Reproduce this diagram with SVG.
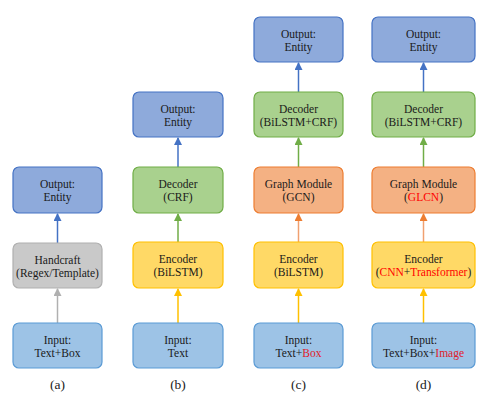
<svg xmlns="http://www.w3.org/2000/svg" width="495" height="407" viewBox="0 0 495 407">
<defs>
<style>
text{font-family:'Liberation Serif','DejaVu Serif','Noto Serif',serif;font-size:11.5px;fill:#1a1a1a;text-anchor:middle}
.cap{font-size:13.5px}
.r{fill:#ff0000}
.rr{fill:#e0202a}
.box{stroke-width:1.2}
.out{fill:#8eaadb;stroke:#4472c4}
.inp{fill:#9dc3e6;stroke:#5b9bd5}
.hand{fill:#c9c9c9;stroke:#b0b0b0}
.dec{fill:#a9d18e;stroke:#70ad47}
.enc{fill:#ffd966;stroke:#ffc000}
.gra{fill:#f4b183;stroke:#ed7d31}
.ln{stroke-width:1.5;fill:none}
</style>
<marker id="aB" markerWidth="8" markerHeight="8" refX="7" refY="4" orient="auto" markerUnits="userSpaceOnUse"><path d="M0,0 L8,4 L0,8 z" fill="#4472c4"/></marker>
<marker id="aG" markerWidth="8" markerHeight="8" refX="7" refY="4" orient="auto" markerUnits="userSpaceOnUse"><path d="M0,0 L8,4 L0,8 z" fill="#b0b0b0"/></marker>
<marker id="aD" markerWidth="8" markerHeight="8" refX="7" refY="4" orient="auto" markerUnits="userSpaceOnUse"><path d="M0,0 L8,4 L0,8 z" fill="#70ad47"/></marker>
<marker id="aO" markerWidth="8" markerHeight="8" refX="7" refY="4" orient="auto" markerUnits="userSpaceOnUse"><path d="M0,0 L8,4 L0,8 z" fill="#ed7d31"/></marker>
<marker id="aY" markerWidth="8" markerHeight="8" refX="7" refY="4" orient="auto" markerUnits="userSpaceOnUse"><path d="M0,0 L8,4 L0,8 z" fill="#ffc000"/></marker>
</defs>
<rect width="495" height="407" fill="#ffffff"/>

<g id="connectors">
<path class="ln" d="M57.5,243 V214" stroke="#4472c4" marker-end="url(#aB)"/>
<path class="ln" d="M57.5,323 V289" stroke="#b0b0b0" marker-end="url(#aG)"/>

<path class="ln" d="M178,167 V138" stroke="#4472c4" marker-end="url(#aB)"/>
<path class="ln" d="M178,242 V214" stroke="#70ad47" marker-end="url(#aD)"/>
<path class="ln" d="M178,323 V289" stroke="#ffc000" marker-end="url(#aY)"/>

<path class="ln" d="M298.5,92 V63" stroke="#4472c4" marker-end="url(#aB)"/>
<path class="ln" d="M298.5,167 V138" stroke="#70ad47" marker-end="url(#aD)"/>
<path class="ln" d="M298.5,242 V214" stroke="#f0a070" marker-end="url(#aO)"/>
<path class="ln" d="M298.5,323 V289" stroke="#ffc000" marker-end="url(#aY)"/>

<path class="ln" d="M423.5,92 V63" stroke="#4472c4" marker-end="url(#aB)"/>
<path class="ln" d="M423.5,167 V138" stroke="#70ad47" marker-end="url(#aD)"/>
<path class="ln" d="M423.5,242 V214" stroke="#f0a070" marker-end="url(#aO)"/>
<path class="ln" d="M423.5,323 V289" stroke="#ffc000" marker-end="url(#aY)"/>
</g>

<!-- column a -->
<g id="a-output"><rect class="box out" x="13" y="167" width="89" height="46" rx="6"/><text x="57.5" y="188">Output:</text><text x="57.5" y="201">Entity</text></g>
<g id="a-handcraft"><rect class="box hand" x="13" y="243" width="89" height="45" rx="6"/><text x="57.5" y="264">Handcraft</text><text x="57.5" y="277">(Regex/Template)</text></g>
<g id="a-input"><rect class="box inp" x="13" y="323" width="89" height="45" rx="6"/><text x="57.5" y="344">Input:</text><text x="57.5" y="357">Text+Box</text></g>
<text class="cap" x="57.5" y="389">(a)</text>

<!-- column b -->
<g id="b-output"><rect class="box out" x="133" y="92" width="90" height="45" rx="6"/><text x="178" y="113">Output:</text><text x="178" y="126">Entity</text></g>
<g id="b-decoder"><rect class="box dec" x="133" y="167" width="90" height="46" rx="6"/><text x="178" y="188">Decoder</text><text x="178" y="201">(CRF)</text></g>
<g id="b-encoder"><rect class="box enc" x="133" y="242" width="90" height="46" rx="6"/><text x="178" y="263">Encoder</text><text x="178" y="276">(BiLSTM)</text></g>
<g id="b-input"><rect class="box inp" x="133" y="323" width="90" height="45" rx="6"/><text x="178" y="344">Input:</text><text x="178" y="357">Text</text></g>
<text class="cap" x="178" y="389">(b)</text>

<!-- column c -->
<g id="c-output"><rect class="box out" x="254" y="17" width="89" height="45" rx="6"/><text x="298.5" y="38">Output:</text><text x="298.5" y="51">Entity</text></g>
<g id="c-decoder"><rect class="box dec" x="254" y="92" width="89" height="45" rx="6"/><text x="298.5" y="113">Decoder</text><text x="298.5" y="126">(BiLSTM+CRF)</text></g>
<g id="c-graph"><rect class="box gra" x="254" y="167" width="89" height="46" rx="6"/><text x="298.5" y="188">Graph Module</text><text x="298.5" y="201">(GCN)</text></g>
<g id="c-encoder"><rect class="box enc" x="254" y="242" width="89" height="46" rx="6"/><text x="298.5" y="263">Encoder</text><text x="298.5" y="276">(BiLSTM)</text></g>
<g id="c-input"><rect class="box inp" x="254" y="323" width="89" height="45" rx="6"/><text x="298.5" y="344">Input:</text><text x="298.5" y="357">Text+<tspan class="rr">Box</tspan></text></g>
<text class="cap" x="298.5" y="389">(c)</text>

<!-- column d -->
<g id="d-output"><rect class="box out" x="372" y="17" width="103" height="45" rx="6"/><text x="423.5" y="38">Output:</text><text x="423.5" y="51">Entity</text></g>
<g id="d-decoder"><rect class="box dec" x="372" y="92" width="103" height="45" rx="6"/><text x="423.5" y="113">Decoder</text><text x="423.5" y="126">(BiLSTM+CRF)</text></g>
<g id="d-graph"><rect class="box gra" x="372" y="167" width="103" height="46" rx="6"/><text x="423.5" y="188">Graph Module</text><text x="423.5" y="201">(<tspan class="r">GLCN</tspan>)</text></g>
<g id="d-encoder"><rect class="box enc" x="372" y="242" width="103" height="46" rx="6"/><text x="423.5" y="263">Encoder</text><text x="423.5" y="276">(<tspan class="r">CNN</tspan>+<tspan class="r">Transformer</tspan>)</text></g>
<g id="d-input"><rect class="box inp" x="372" y="323" width="103" height="45" rx="6"/><text x="423.5" y="344">Input:</text><text x="423.5" y="357">Text+Box+<tspan class="rr">Image</tspan></text></g>
<text class="cap" x="423.5" y="389">(d)</text>
</svg>
